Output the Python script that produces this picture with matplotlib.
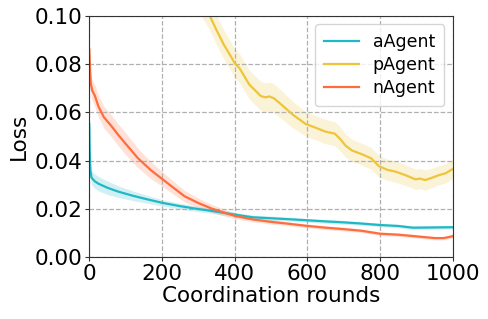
import numpy as np
import matplotlib.pyplot as plt

# aAgent
a_x = [0, 1, 3, 6, 15, 25, 50, 80, 120, 160, 200, 250, 300, 335, 400, 450, 500, 550, 595,
       650, 700, 750, 800, 850, 890, 950, 1000]
a_y = [0.055, 0.045, 0.036, 0.033, 0.0315, 0.0305, 0.0288, 0.0272, 0.0255, 0.024, 0.0226,
       0.0212, 0.0200, 0.0193, 0.0177, 0.0166, 0.0162, 0.0158, 0.0154, 0.0149, 0.0145,
       0.0140, 0.0134, 0.0130, 0.0123, 0.0124, 0.0125]
a_err = [0.003, 0.004, 0.003, 0.003, 0.003, 0.003, 0.0028, 0.0024, 0.002, 0.0016, 0.0013,
         0.0012, 0.0011, 0.001, 0.001, 0.0009, 0.0009, 0.0008, 0.0008, 0.0008, 0.0008,
         0.0007, 0.0007, 0.0007, 0.0007, 0.0007, 0.0007]

# pAgent
p_x = [250, 300, 331, 350, 370, 390, 400, 413, 440, 472, 485, 495, 508, 530, 560, 595, 620,
       650, 675, 690, 705, 723, 751, 775, 796, 820, 842, 870, 897, 910, 924, 940, 961, 980, 1000]
p_y = [0.125, 0.108, 0.100, 0.094, 0.088, 0.083, 0.0803, 0.0783, 0.0715, 0.0667, 0.0662,
       0.0666, 0.0658, 0.063, 0.059, 0.0552, 0.0538, 0.052, 0.0512, 0.049, 0.0462, 0.0442,
       0.0426, 0.041, 0.0378, 0.0362, 0.0355, 0.034, 0.0323, 0.0326, 0.0320, 0.0328, 0.034,
       0.0348, 0.0366]
p_err = [0.006, 0.006, 0.006, 0.006, 0.006, 0.006, 0.006, 0.006, 0.006, 0.006, 0.006, 0.006,
         0.006, 0.0058, 0.0055, 0.005, 0.005, 0.005, 0.005, 0.005, 0.0048, 0.0046, 0.0045,
         0.0045, 0.0045, 0.0044, 0.0044, 0.0043, 0.0042, 0.0042, 0.0042, 0.004, 0.004, 0.004,
         0.004]

# nAgent
n_x = [0, 2, 4, 8, 15, 25, 40, 60, 80, 100, 134, 170, 200, 230, 262, 300, 335, 370, 400, 450,
       500, 550, 595, 650, 700, 750, 800, 850, 900, 950, 975, 1000]
n_y = [0.086, 0.078, 0.072, 0.069, 0.067, 0.0625, 0.058, 0.0545, 0.0506, 0.047, 0.041, 0.036,
       0.0325, 0.029, 0.0253, 0.0225, 0.0203, 0.0186, 0.0172, 0.0157, 0.0147, 0.0139, 0.0131,
       0.0123, 0.0117, 0.0110, 0.0098, 0.0094, 0.0087, 0.0080, 0.0080, 0.0088]
n_err = [0.002, 0.003, 0.004, 0.0042, 0.0045, 0.0045, 0.0045, 0.0045, 0.0045, 0.0045, 0.004,
         0.0035, 0.003, 0.0027, 0.0024, 0.002, 0.0017, 0.0014, 0.0012, 0.001, 0.0009, 0.0008,
         0.0008, 0.0008, 0.0008, 0.0007, 0.0007, 0.0007, 0.0007, 0.0007, 0.0007, 0.0007]

series = [("aAgent", a_x, a_y, a_err, "#1fb8c6"),
          ("pAgent", p_x, p_y, p_err, "#eec53a"),
          ("nAgent", n_x, n_y, n_err, "#ff6c3d")]

fig = plt.figure(figsize=(4.88, 3.19), dpi=100)
ax = fig.add_axes([0.183, 0.193, 0.745, 0.758])

for name, x, y, err, c in series:
    x = np.array(x)
    y = np.array(y)
    err = np.array(err)
    ax.fill_between(x, y - err, y + err, color=c, alpha=0.2, linewidth=0)
    ax.plot(x, y, color=c, linewidth=1.6, label=name)

ax.set_xlim(0, 1000)
ax.set_ylim(0, 0.10)
ax.set_xticks([0, 200, 400, 600, 800, 1000])
ax.set_yticks([0.00, 0.02, 0.04, 0.06, 0.08, 0.10])
ax.set_yticklabels(["0.00", "0.02", "0.04", "0.06", "0.08", "0.10"])
ax.tick_params(labelsize=15.5, length=3, pad=2, color="#333333")
ax.grid(True, linestyle="--", color="#b0b0b0", linewidth=0.9)
for s in ax.spines.values():
    s.set_color("#333333")
ax.set_xlabel("Coordination rounds", fontsize=15.5, labelpad=1)
ax.set_ylabel("Loss", fontsize=15.5, labelpad=4)
ax.legend(loc="upper right", fontsize=12.5, handlelength=2.0, borderpad=0.5,
          labelspacing=0.3, handletextpad=0.8)

fig.savefig("out.png", dpi=100)
